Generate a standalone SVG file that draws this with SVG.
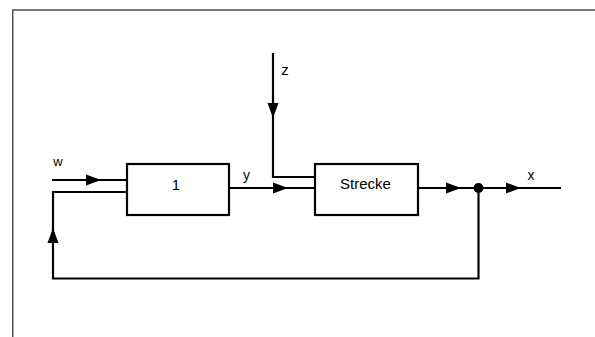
<svg xmlns="http://www.w3.org/2000/svg" xmlns:xlink="http://www.w3.org/1999/xlink" width="595" height="337" viewBox="0 0 595 337">
  <style>
    .frame { fill: none; stroke: #505050; stroke-width: 1.5; }
    .box { fill: #ffffff; stroke: #000000; stroke-width: 2.2; }
    .wire { fill: none; stroke: #000000; stroke-width: 2.2; stroke-linejoin: miter; }
    .lbl { font-family: "Liberation Sans", Arial, sans-serif; fill: #000000; }
  </style>
  <defs>
    <path id="ah" d="M-15,-5.5 L0,0 L-15,5.5 Z" fill="#000000"/>
  </defs>
  <rect x="0" y="0" width="595" height="337" fill="#ffffff"/>
  <path class="frame" d="M12.75,337 V10 H595"/>

  <g id="connectors">
    <path class="wire" d="M52,180 H127"/>
    <path class="wire" d="M127,192 H53 V278.5 H478.5 V188"/>
    <path class="wire" d="M229,188 H315"/>
    <path class="wire" d="M273,53 V177 H315"/>
    <path class="wire" d="M418,188 H561"/>
    <circle cx="478.5" cy="188" r="5" fill="#000000"/>
    <use xlink:href="#ah" transform="translate(101,180)"/>
    <use xlink:href="#ah" transform="translate(288,188)"/>
    <use xlink:href="#ah" transform="translate(53,228) rotate(-90)"/>
    <use xlink:href="#ah" transform="translate(273,118) rotate(90)"/>
    <use xlink:href="#ah" transform="translate(461,188)"/>
    <use xlink:href="#ah" transform="translate(521,188)"/>
  </g>

  <g id="node-regler">
    <rect class="box" x="127" y="164" width="102" height="51"/>
    <text class="lbl" x="176" y="190" font-size="15" text-anchor="middle">1</text>
  </g>
  <g id="node-strecke">
    <rect class="box" x="315" y="164" width="103" height="51"/>
    <text class="lbl" x="365.5" y="189" font-size="15" text-anchor="middle">Strecke</text>
  </g>

  <g id="labels">
    <text class="lbl" x="58" y="166" font-size="13" text-anchor="middle">w</text>
    <text class="lbl" x="246.5" y="180" font-size="14" text-anchor="middle">y</text>
    <text class="lbl" x="285" y="75" font-size="15" text-anchor="middle">z</text>
    <text class="lbl" x="531" y="180" font-size="14" text-anchor="middle">x</text>
  </g>
</svg>
